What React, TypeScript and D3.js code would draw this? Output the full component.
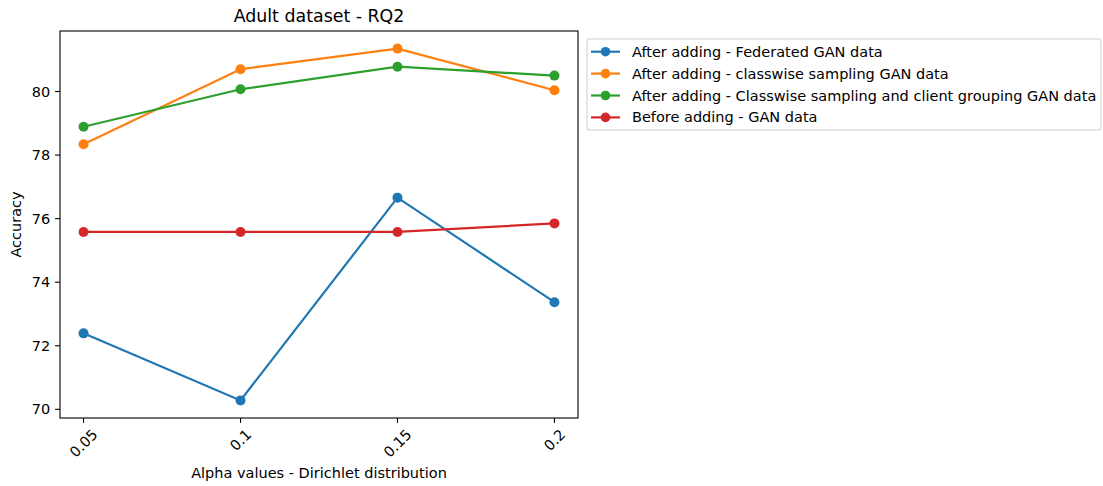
import * as d3 from 'd3'
import { useEffect, useRef } from 'react'

// alpha values on the x axis (categorical, plotted at their numeric position)
const alphas = [0.05, 0.1, 0.15, 0.2]
const alphaLabels = ['0.05', '0.1', '0.15', '0.2']

// accuracy per series
const federatedGan = [72.39, 70.28, 76.66, 73.37]
const classwiseGan = [78.34, 80.7, 81.35, 80.04]
const classwiseGroupingGan = [78.89, 80.07, 80.78, 80.5]
const beforeGan = [75.58, 75.58, 75.58, 75.85]

const yTicks = [70, 72, 74, 76, 78, 80]

const seriesNames = [
  'After adding - Federated GAN data',
  'After adding - classwise sampling GAN data',
  'After adding - Classwise sampling and client grouping GAN data',
  'Before adding - GAN data',
]
const seriesColors = ['#1f77b4', '#ff7f0e', '#2ca02c', '#d62728']

export default function App() {
  const svgRef = useRef<SVGSVGElement>(null)

  useEffect(() => {
    const width = 1103
    const height = 486
    const margin = { left: 60, right: 578, top: 31, bottom: 418 } // plot box edges
    const font = 'DejaVu Sans, sans-serif'
    const fs = '14.5px'

    const svg = d3.select(svgRef.current)
    svg.selectAll('*').remove()
    svg.attr('width', width).attr('height', height)

    const allValues = [...federatedGan, ...classwiseGan, ...classwiseGroupingGan, ...beforeGan]
    const yMin = d3.min(allValues)!
    const yMax = d3.max(allValues)!
    const yPad = (yMax - yMin) * 0.05
    const xPad = (d3.max(alphas)! - d3.min(alphas)!) * 0.05

    const x = d3.scaleLinear()
      .domain([d3.min(alphas)! - xPad, d3.max(alphas)! + xPad])
      .range([margin.left, margin.right])
    const y = d3.scaleLinear()
      .domain([yMin - yPad, yMax + yPad])
      .range([margin.bottom, margin.top])

    const g = svg.append('g')

    // series lines + markers
    const allSeries = [federatedGan, classwiseGan, classwiseGroupingGan, beforeGan]
    const line = d3.line<number>()
      .x((_, i) => x(alphas[i]))
      .y((d) => y(d))

    allSeries.forEach((values, s) => {
      g.append('path')
        .attr('d', line(values))
        .attr('fill', 'none')
        .attr('stroke', seriesColors[s])
        .attr('stroke-width', 2.2)
      g.selectAll(null)
        .data(values)
        .join('circle')
        .attr('cx', (_, i) => x(alphas[i]))
        .attr('cy', (d) => y(d))
        .attr('r', 5)
        .attr('fill', seriesColors[s])
    })

    // plot frame
    g.append('rect')
      .attr('x', margin.left)
      .attr('y', margin.top)
      .attr('width', margin.right - margin.left)
      .attr('height', margin.bottom - margin.top)
      .attr('fill', 'none')
      .attr('stroke', '#000')
      .attr('stroke-width', 1.1)

    // y ticks
    yTicks.forEach((t) => {
      g.append('line')
        .attr('x1', margin.left - 4.9).attr('x2', margin.left)
        .attr('y1', y(t)).attr('y2', y(t))
        .attr('stroke', '#000').attr('stroke-width', 1.1)
      g.append('text')
        .attr('x', margin.left - 9.7)
        .attr('y', y(t))
        .attr('dy', '0.35em')
        .attr('text-anchor', 'end')
        .style('font-family', font)
        .style('font-size', fs)
        .text(t)
    })

    // x ticks, rotated 45 deg centred under the tick
    alphas.forEach((a, i) => {
      g.append('line')
        .attr('x1', x(a)).attr('x2', x(a))
        .attr('y1', margin.bottom).attr('y2', margin.bottom + 4.9)
        .attr('stroke', '#000').attr('stroke-width', 1.1)
      const label = alphaLabels[i]
      const w = label.length * 9.2 - 4.6
      const cy = margin.bottom + 9.7 + (w + 12) / (2 * Math.SQRT2)
      g.append('text')
        .attr('transform', `translate(${x(a)},${cy}) rotate(-45)`)
        .attr('text-anchor', 'middle')
        .attr('dy', '0.35em')
        .style('font-family', font)
        .style('font-size', fs)
        .text(label)
    })

    // titles
    g.append('text')
      .attr('x', (margin.left + margin.right) / 2)
      .attr('y', 22)
      .attr('text-anchor', 'middle')
      .style('font-family', font)
      .style('font-size', '17.4px')
      .text('Adult dataset - RQ2')

    g.append('text')
      .attr('x', (margin.left + margin.right) / 2)
      .attr('y', 478)
      .attr('text-anchor', 'middle')
      .style('font-family', font)
      .style('font-size', fs)
      .text('Alpha values - Dirichlet distribution')

    g.append('text')
      .attr('transform', `translate(21,${(margin.top + margin.bottom) / 2}) rotate(-90)`)
      .attr('text-anchor', 'middle')
      .style('font-family', font)
      .style('font-size', fs)
      .text('Accuracy')

    // legend
    const legend = g.append('g')
    legend.append('rect')
      .attr('x', 587).attr('y', 39)
      .attr('width', 514).attr('height', 91)
      .attr('rx', 3)
      .attr('fill', '#fff')
      .attr('stroke', '#d0d0d0')
      .attr('stroke-width', 1.1)

    seriesNames.forEach((name, i) => {
      const ry = 51.7 + i * 21.9
      legend.append('line')
        .attr('x1', 591).attr('x2', 620)
        .attr('y1', ry).attr('y2', ry)
        .attr('stroke', seriesColors[i]).attr('stroke-width', 2.2)
      legend.append('circle')
        .attr('cx', 605.5).attr('cy', ry).attr('r', 4.8)
        .attr('fill', seriesColors[i])
      legend.append('text')
        .attr('x', 632).attr('y', ry)
        .attr('dy', '0.35em')
        .style('font-family', font)
        .style('font-size', fs)
        .text(name)
    })
  }, [])

  return (
    <div style={{ position: 'absolute', left: 0, top: 0 }}>
      <svg ref={svgRef} style={{ display: 'block', background: '#fff' }} />
    </div>
  )
}
